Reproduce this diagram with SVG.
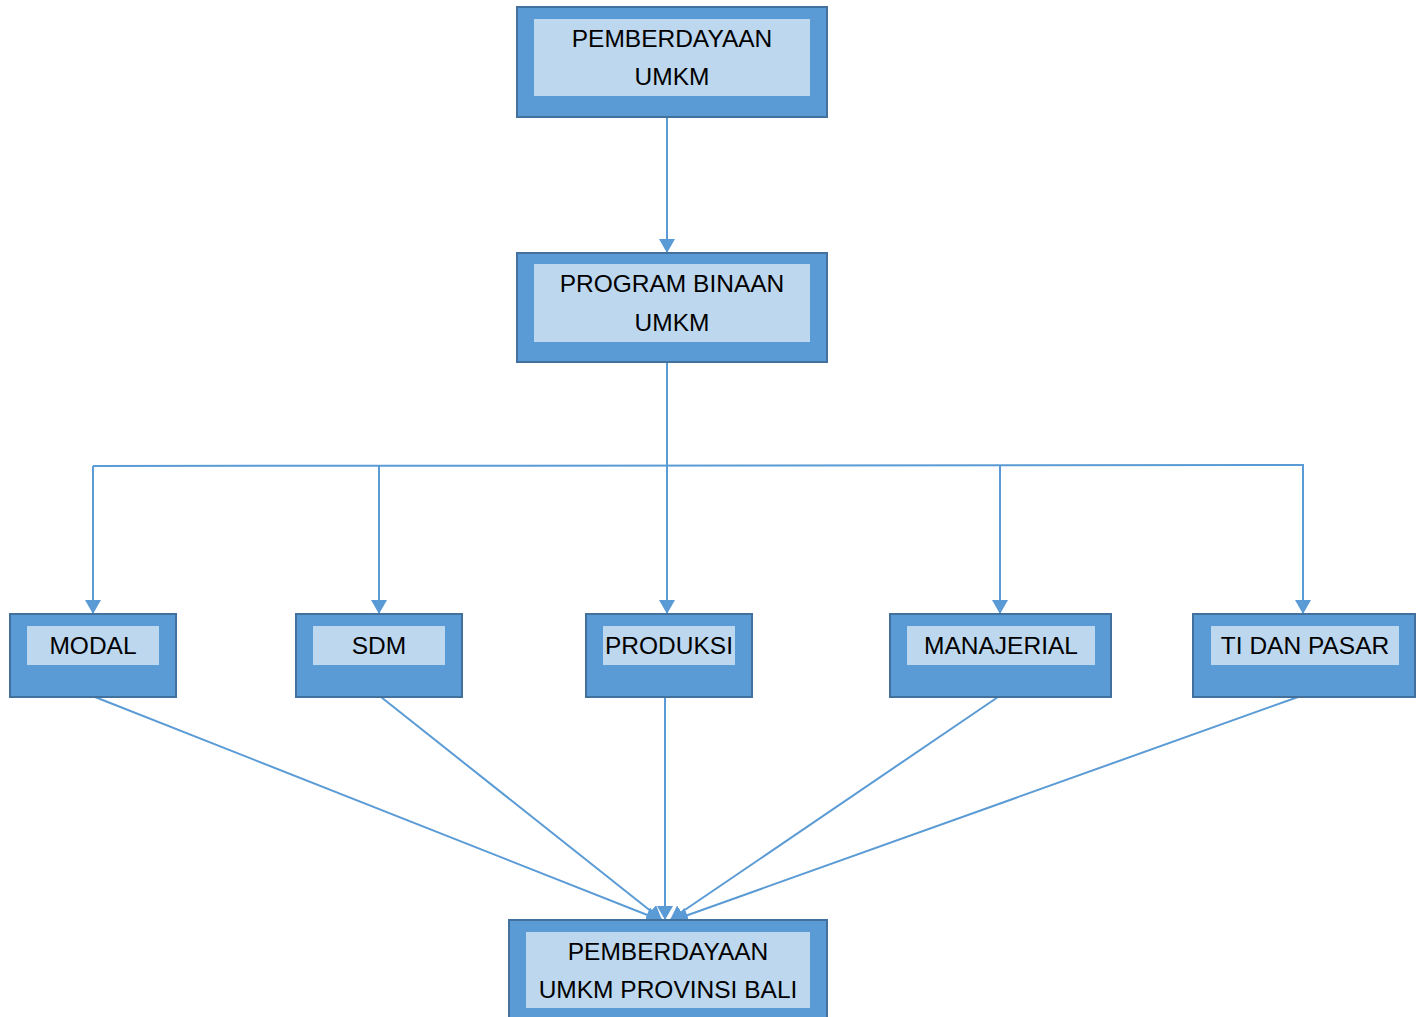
<svg xmlns="http://www.w3.org/2000/svg" width="1423" height="1017" viewBox="0 0 1423 1017">
<style>
.outer{fill:#5B9BD5;stroke:#41719C;stroke-width:2}
.inner{fill:#BDD7EE}
.lbl{font-family:"Liberation Sans",Arial,sans-serif;font-size:24.5px;fill:#000;text-anchor:middle}
.c{fill:none;stroke:#5B9BD5;stroke-width:2}
</style>
<defs>
<marker id="a" viewBox="0 0 14 16" refX="14" refY="8" markerWidth="14" markerHeight="16" markerUnits="userSpaceOnUse" orient="auto">
<path d="M0,0 L14,8 L0,16 Z" fill="#5B9BD5"/>
</marker>
</defs>
<g id="connectors">
<line class="c" x1="667" y1="117" x2="667" y2="253" marker-end="url(#a)"/>
<line class="c" x1="667" y1="362" x2="667" y2="614" marker-end="url(#a)"/>
<polyline class="c" points="93,466 1303,465 1303,614" marker-end="url(#a)"/>
<line class="c" x1="93" y1="466" x2="93" y2="614" marker-end="url(#a)"/>
<line class="c" x1="379" y1="466" x2="379" y2="614" marker-end="url(#a)"/>
<line class="c" x1="1000" y1="466" x2="1000" y2="614" marker-end="url(#a)"/>
<line class="c" x1="95" y1="697" x2="660" y2="920" marker-end="url(#a)"/>
<line class="c" x1="381" y1="697" x2="662" y2="920" marker-end="url(#a)"/>
<line class="c" x1="665" y1="697" x2="665" y2="920" marker-end="url(#a)"/>
<line class="c" x1="998" y1="697" x2="670" y2="920" marker-end="url(#a)"/>
<line class="c" x1="1298" y1="697" x2="674" y2="920" marker-end="url(#a)"/>
</g>
<g id="n1">
<rect class="outer" x="517" y="7" width="310" height="110"/>
<rect class="inner" x="534" y="19" width="276" height="77"/>
<text class="lbl" x="672" y="47">PEMBERDAYAAN</text>
<text class="lbl" x="672" y="85">UMKM</text>
</g>
<g id="n2">
<rect class="outer" x="517" y="253" width="310" height="109"/>
<rect class="inner" x="534" y="264" width="276" height="78"/>
<text class="lbl" x="672" y="292">PROGRAM BINAAN</text>
<text class="lbl" x="672" y="331">UMKM</text>
</g>
<g id="n3">
<rect class="outer" x="10" y="614" width="166" height="83"/>
<rect class="inner" x="27" y="626" width="132" height="39"/>
<text class="lbl" x="93" y="654">MODAL</text>
</g>
<g id="n4">
<rect class="outer" x="296" y="614" width="166" height="83"/>
<rect class="inner" x="313" y="626" width="132" height="39"/>
<text class="lbl" x="379" y="654">SDM</text>
</g>
<g id="n5">
<rect class="outer" x="586" y="614" width="166" height="83"/>
<rect class="inner" x="603" y="626" width="132" height="39"/>
<text class="lbl" x="669" y="654">PRODUKSI</text>
</g>
<g id="n6">
<rect class="outer" x="890" y="614" width="221" height="83"/>
<rect class="inner" x="907" y="626" width="188" height="39"/>
<text class="lbl" x="1001" y="654">MANAJERIAL</text>
</g>
<g id="n7">
<rect class="outer" x="1193" y="614" width="222" height="83"/>
<rect class="inner" x="1211" y="626" width="188" height="39"/>
<text class="lbl" x="1305" y="654">TI DAN PASAR</text>
</g>
<g id="n8">
<rect class="outer" x="509" y="920" width="318" height="100"/>
<rect class="inner" x="526" y="932" width="284" height="76"/>
<text class="lbl" x="668" y="960">PEMBERDAYAAN</text>
<text class="lbl" x="668" y="998">UMKM PROVINSI BALI</text>
</g>
</svg>
